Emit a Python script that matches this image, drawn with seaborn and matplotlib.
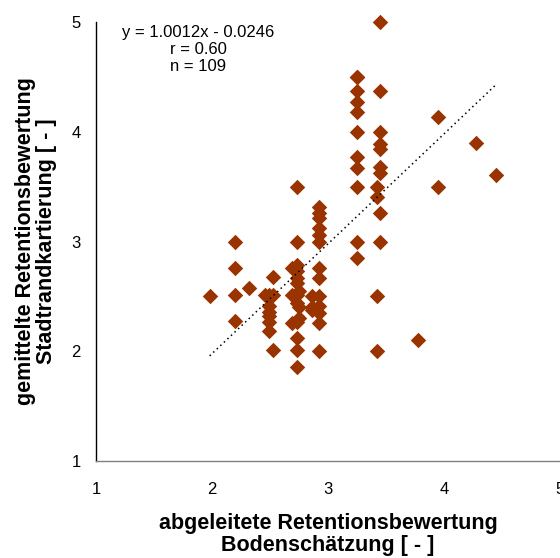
import numpy as np
import pandas as pd
import matplotlib
matplotlib.use("Agg")
import matplotlib.pyplot as plt
import seaborn as sns

# Values (overlapping points cannot be seen)
boden = [1.98,
         2.20, 2.20, 2.20, 2.20,
         2.32,
         2.49, 2.49, 2.49, 2.49, 2.49, 2.49,
         2.46,
         2.53, 2.53, 2.53,
         2.73, 2.73, 2.73, 2.73, 2.73, 2.73, 2.73, 2.73, 2.73, 2.73, 2.73, 2.73,
         2.69, 2.69, 2.69,
         2.75, 2.75, 2.75,
         2.92, 2.92, 2.92, 2.92, 2.92, 2.92, 2.92, 2.92, 2.92, 2.92, 2.92, 2.92, 2.92,
         2.86, 2.86, 2.86,
         3.25, 3.25, 3.25, 3.25, 3.25, 3.25, 3.25, 3.25, 3.25, 3.25, 3.25,
         3.45, 3.45, 3.45, 3.45, 3.45, 3.45, 3.45, 3.45, 3.45,
         3.42, 3.42, 3.42, 3.42,
         3.95, 3.95, 4.28, 4.45, 3.78]
stadtrand = [2.50,
             3.00, 2.76, 2.51, 2.28,
             2.58,
             2.51, 2.41, 2.36, 2.32, 2.27, 2.18,
             2.51,
             2.68, 2.51, 2.01,
             3.50, 3.00, 2.79, 2.73, 2.67, 2.62, 2.51, 2.44, 2.27, 2.12, 2.01, 1.86,
             2.76, 2.51, 2.26,
             2.30, 2.55, 2.40,
             3.31, 3.26, 3.21, 3.12, 3.06, 3.00, 2.76, 2.67, 2.50, 2.41, 2.35, 2.26, 2.00,
             2.50, 2.38, 2.40,
             4.50, 4.50, 4.37, 4.27, 4.18, 4.00, 3.77, 3.67, 3.50, 3.00, 2.85,
             5.00, 4.37, 4.00, 3.89, 3.84, 3.68, 3.62, 3.26, 3.00,
             3.50, 3.41, 2.50, 2.00,
             4.13, 3.50, 3.90, 3.61, 2.10]

slope = 1.0012
intercept = -0.0246
stats_text = "y = 1.0012x - 0.0246\nr = 0.60\nn = 109"

df = pd.DataFrame({"boden": boden, "stadtrand": stadtrand})

sns.set_style("white")
plt.rcParams['font.family'] = ['Liberation Sans', 'DejaVu Sans']
plt.rcParams['text.color'] = 'black'
plt.rcParams['axes.labelcolor'] = 'black'

fig = plt.figure(figsize=(5.6, 5.58), dpi=100)
ax = fig.add_axes([96 / 560, 97 / 558, 464 / 560, 439 / 558])

sns.scatterplot(data=df, x="boden", y="stadtrand", marker="D", s=62,
                color="#993300", linewidth=0, ax=ax, zorder=3, clip_on=False)

# trend line over the data range
xl = np.array([df["boden"].min(), df["boden"].max()])
ax.plot(xl, slope * xl + intercept, color="black", lw=1.1,
        linestyle=(0, (1, 2.2)), zorder=4)

ax.set_xlim(1, 5)
ax.set_ylim(1, 5)
ax.set_xticks([1, 2, 3, 4, 5])
ax.set_yticks([1, 2, 3, 4, 5])
ax.tick_params(direction="out", length=5, width=1, labelsize=12,
               colors="black", labelcolor="black")
ax.tick_params(axis="x", pad=10, color="#808080")
ax.tick_params(axis="y", pad=6)

for side in ["top", "right"]:
    ax.spines[side].set_visible(False)
ax.spines["left"].set_color("black")
ax.spines["bottom"].set_color("#808080")
ax.spines["left"].set_linewidth(1)
ax.spines["bottom"].set_linewidth(1)

ax.set_xlabel("abgeleitete Retentionsbewertung\nBodenschätzung [ - ]",
              fontsize=15.5, fontweight="bold", labelpad=12, linespacing=1.05)
ax.set_ylabel("gemittelte Retentionsbewertung\nStadtrandkartierung [ - ]",
              fontsize=15.5, fontweight="bold", labelpad=10, linespacing=1.05)

ax.text(1.88, 4.975, stats_text, ha="center", va="top", fontsize=12,
        linespacing=1.18)

fig.savefig("out.png", dpi=100)
